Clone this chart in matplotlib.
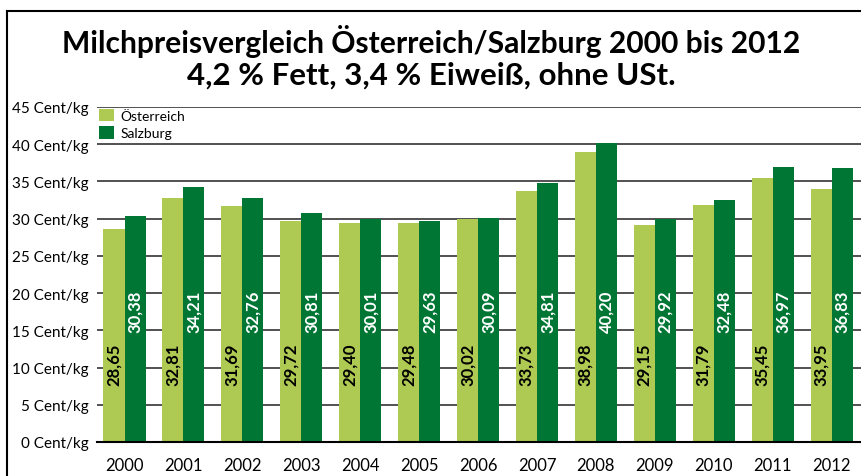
import matplotlib
matplotlib.use('Agg')
import matplotlib.pyplot as plt
import numpy as np
from matplotlib.lines import Line2D

# data
jahre = ['2000', '2001', '2002', '2003', '2004', '2005', '2006',
         '2007', '2008', '2009', '2010', '2011', '2012']
oesterreich = [28.65, 32.81, 31.69, 29.72, 29.40, 29.48, 30.02,
               33.73, 38.98, 29.15, 31.79, 35.45, 33.95]
salzburg = [30.38, 34.21, 32.76, 30.81, 30.01, 29.63, 30.09,
            34.81, 40.20, 29.92, 32.48, 36.97, 36.83]
y_ticks = [0, 5, 10, 15, 20, 25, 30, 35, 40, 45]

hell = '#afca52'
dunkel = '#007634'
FONT = 'Lato'

fig = plt.figure(figsize=(8.62, 4.77), dpi=100)
W, H = 862.0, 477.0
ax = fig.add_axes([97/W, 1-443/H, (861-97)/W, (443-108)/H])

x = np.arange(len(jahre))
w = 0.357
ax.bar(x - w/2, oesterreich, w, color=hell, label='Österreich', zorder=3)
ax.bar(x + w/2, salzburg, w, color=dunkel, label='Salzburg', zorder=3)

# value labels, rotated inside the bars
for i in range(len(jahre)):
    ax.text(x[i] - w/2, 10.5, ('%.2f' % oesterreich[i]).replace('.', ','),
            rotation=90, ha='center', va='center', color='black',
            fontsize=12, fontweight='bold', family=FONT, zorder=4)
    ax.text(x[i] + w/2, 17.6, ('%.2f' % salzburg[i]).replace('.', ','),
            rotation=90, ha='center', va='center', color='white',
            fontsize=12, fontweight='bold', family=FONT, zorder=4)

ax.set_xlim(-0.467, 12.5)
ax.set_ylim(0, 45)
ax.set_xticks(x)
ax.set_xticklabels(jahre, family=FONT, fontsize=12)
ax.set_yticks(y_ticks)
ax.set_yticklabels(['%d Cent/kg' % v for v in y_ticks], family=FONT, fontsize=11)
ax.tick_params(axis='x', length=0, pad=11)
ax.tick_params(axis='y', length=0, pad=6)
ax.yaxis.grid(True, color='#333333', linewidth=1.2, zorder=0)
ax.set_axisbelow(True)
for s in ['left', 'right', 'top']:
    ax.spines[s].set_visible(False)
ax.spines['bottom'].set_color('black')
ax.spines['bottom'].set_linewidth(1.5)
ax.spines['bottom'].set_zorder(5)

leg = ax.legend(loc='upper left', bbox_to_anchor=(99/W, 1-110/H),
                bbox_transform=fig.transFigure, frameon=False, borderpad=0,
                borderaxespad=0, handlelength=1.1, handleheight=1.0,
                handletextpad=0.45, labelspacing=0.3,
                prop={'family': FONT, 'size': 10})

# titles
fig.text(0.5, 1-42/H, 'Milchpreisvergleich Österreich/Salzburg 2000 bis 2012',
         ha='center', va='center', fontsize=21.6, fontweight='bold', family=FONT)
fig.text(0.5, 1-76/H, '4,2 % Fett, 3,4 % Eiweiß, ohne USt.',
         ha='center', va='center', fontsize=22.5, fontweight='bold', family=FONT)

# frame
fig.add_artist(Line2D([7/W, 7/W], [0, 1-12/H], color='black', lw=1.5,
                      transform=fig.transFigure))
fig.add_artist(Line2D([7/W, 1], [1-12/H, 1-12/H], color='black', lw=1.5,
                      transform=fig.transFigure))

fig.savefig('out.png', dpi=100)
